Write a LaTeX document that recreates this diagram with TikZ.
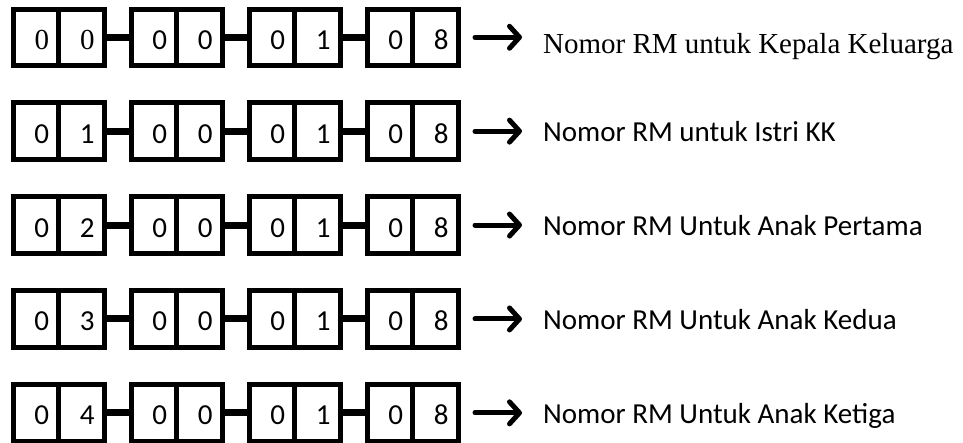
\documentclass[tikz,border=0pt]{standalone}
\usepackage{fontspec}
\setmainfont{Liberation Serif}
\newfontfamily\timesfont{Liberation Serif}
\newfontfamily\calibri{Carlito}
\usetikzlibrary{positioning,arrows.meta}

\newcommand{\bigsize}{\fontsize{29}{34}\selectfont}

\tikzset{
  cell/.style={draw, line width=5pt, minimum width=45.5pt, minimum height=56.5pt,
    inner sep=0pt, outer sep=0pt},
  digit/.style={anchor=base, inner sep=0pt, font=\calibri\bigsize},
  link/.style={line width=7pt},
  pointer/.style={line width=5pt, line cap=round,
    -{Straight Barb[round, length=10pt, width=22pt]}},
  caption/.style={anchor=base west, inner sep=0pt, font=\bigsize}
}

\begin{document}
\begin{tikzpicture}[x=1pt,y=-1pt]
\useasboundingbox (0,0) rectangle (963,442);

\foreach \fnt/\a/\b/\txt/\down [count=\r from 0] in {
  \timesfont/0/0/{Nomor RM untuk Kepala Keluarga}/15.75,
  \calibri/0/1/{Nomor RM untuk Istri KK}/10.5,
  \calibri/0/2/{Nomor RM Untuk Anak Pertama}/10.5,
  \calibri/0/3/{Nomor RM Untuk Anak Kedua}/10.5,
  \calibri/0/4/{Nomor RM Untuk Anak Ketiga}/10.5}
{
% Boxes
\node[cell, anchor=west] (a\r) at (13, 37.25+93.9*\r) {};
\node[cell, right=0pt of a\r] (b\r) {};
\node[cell, right=27pt of b\r] (c\r) {};
\node[cell, right=0pt of c\r] (d\r) {};
\node[cell, right=27pt of d\r] (e\r) {};
\node[cell, right=0pt of e\r] (f\r) {};
\node[cell, right=27pt of f\r] (g\r) {};
\node[cell, right=0pt of g\r] (h\r) {};

% Digits
\node[digit, font=\fnt\bigsize] (na\r) at ([xshift=6pt, yshift=-12pt]a\r.center) {\a};
\node[digit, font=\fnt\bigsize] (nb\r) at ([xshift=6pt, yshift=-12pt]b\r.center) {\b};
\foreach \c/\d in {c/0, d/0, e/0, f/1, g/0, h/8}
  \node[digit] (n\c\r) at ([xshift=6pt, yshift=-12pt]\c\r.center) {\d};

% Links
\draw[link] (b\r) -- (c\r);
\draw[link] (d\r) -- (e\r);
\draw[link] (f\r) -- (g\r);

% Caption
\node[caption] (t\r) at (543, 37.25+93.9*\r+\down) {\fnt\txt};
\draw[pointer, shorten <=17pt, shorten >=21pt] (h\r.east) -- (h\r.east -| t\r.west);
}

\end{tikzpicture}
\end{document}
